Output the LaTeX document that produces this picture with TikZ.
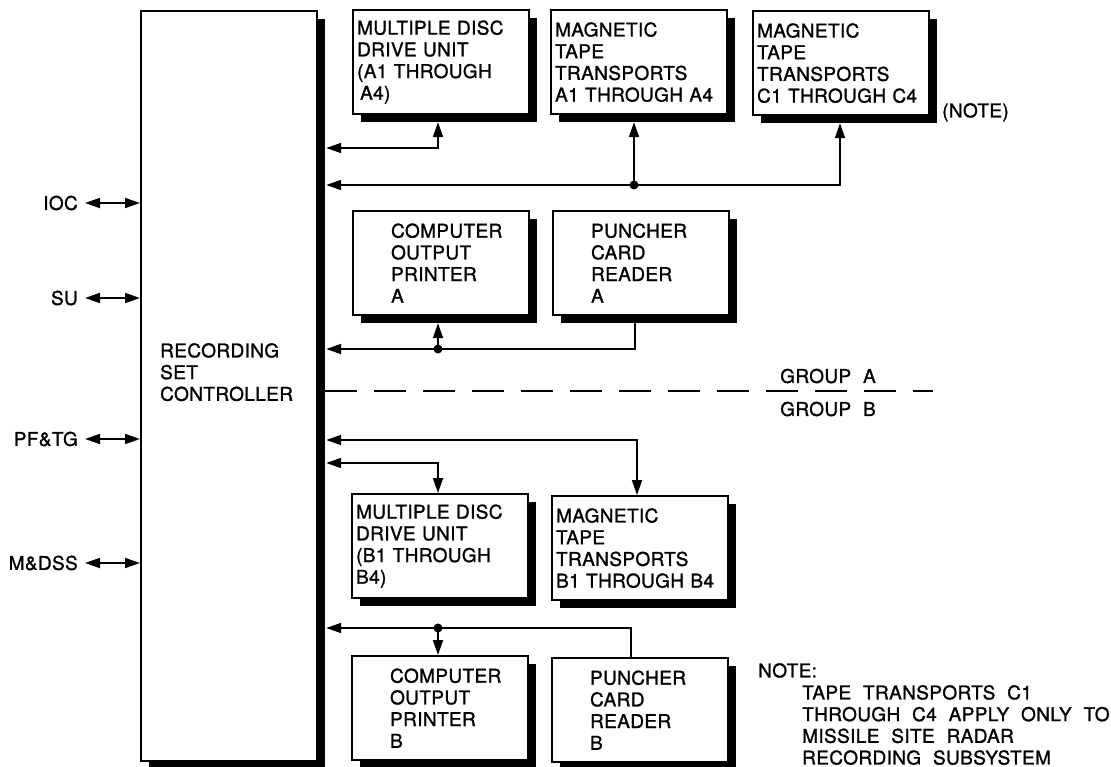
\documentclass[tikz,border=0pt]{standalone}
\usepackage{fontspec}
\setmainfont{TeX Gyre Heros}[LetterSpace=2,WordSpace=2.1,FakeBold=1.2]
\usetikzlibrary{arrows.meta,shadows,calc}
\hfuzz=40pt

\tikzset{
  unit/.style={draw,line width=2.2pt,fill=white,anchor=north west,
    minimum width=176pt,minimum height=104pt,align=left,
    drop shadow={shadow xshift=8pt,shadow yshift=-8pt,fill=black,opacity=1}},
  wideunit/.style={unit,inner xsep=4pt,text width=168pt},
  narrowunit/.style={unit,inner xsep=38pt,text width=100pt},
  link/.style={line width=1.8pt},
  txt/.style={inner sep=0pt,align=left},
  divider/.style={line width=2pt,dash pattern=on 32pt off 17pt},
}

\begin{document}
\begin{tikzpicture}[x=1pt,y=-1pt,>={Triangle[length=15pt,width=10pt]},
  font=\fontsize{19pt}{21.7pt}\selectfont]
\useasboundingbox (0,0) rectangle (1111,767);

\node[unit,minimum width=176pt,minimum height=750pt] (rsc) at (140,10) {};
\node[txt,anchor=north west] (rsclabel) at (160,343) {RECORDING\\SET\\CONTROLLER};
\coordinate (bus) at ([xshift=8pt]rsc.east);

% outside links
\foreach \name/\lbl/\yy in {ioc/IOC/203,su/SU/298,pftg/PF\&TG/439,mdss/M\&DSS/563}{
  \node[anchor=east,inner xsep=7pt,inner ysep=0pt] (\name) at (85,\yy) {\lbl};
  \draw[link,<->] (\name) -- (\name -| rsc.west);
}

% group A units
\node[wideunit] (mddA) at (352,9) {MULTIPLE DISC\\DRIVE UNIT\\(A1 THROUGH\\\hspace*{3pt}A4)};
\node[wideunit] (mttA) at (550,9) {MAGNETIC\\TAPE\\TRANSPORTS\\A1 THROUGH A4};
\node[wideunit] (mttC) at (752,10) {MAGNETIC\\TAPE\\TRANSPORTS\\C1 THROUGH C4};
\node[narrowunit] (copA) at (352,210) {COMPUTER\\OUTPUT\\PRINTER\\A};
\node[narrowunit] (pcrA) at (552,210) {PUNCHER\\CARD\\READER\\A};
\node[txt,anchor=north west] (noteref) at (942,103) {(NOTE)};

% group B units
\node[wideunit] (mddB) at (351,493) {MULTIPLE DISC\\DRIVE UNIT\\(B1 THROUGH\\B4)};
\node[wideunit] (mttB) at (551,495) {MAGNETIC\\TAPE\\TRANSPORTS\\B1 THROUGH B4};
\node[narrowunit] (copB) at (351,655) {COMPUTER\\OUTPUT\\PRINTER\\B};
\node[narrowunit] (pcrB) at (551,657) {PUNCHER\\CARD\\READER\\B};

% bends and branch points
\coordinate (kMddA) at (438,148);
\coordinate (kMttC) at (840,185);
\coordinate (dMttA) at (634,185);
\coordinate (kPcrA) at (635,349);
\coordinate (dCopA) at (438,349);
\coordinate (kMttB) at (637,440);
\coordinate (kMddB) at (438,463);
\coordinate (kPcrB) at (631,628);
\coordinate (dCopB) at (438,628);

\draw[link,<->] (bus |- kMddA) -- (kMddA) -- ($(kMddA |- mddA.south)+(0,7)$);
\draw[link,<->] (bus |- kMttC) -- (kMttC) -- ($(kMttC |- mttC.south)+(0,7)$);
\draw[link,->] (dMttA) -- ($(dMttA |- mttA.south)+(0,7)$);
\draw[link,->] ($(kPcrA |- pcrA.south)+(0,7)$) -- (kPcrA) -- (bus |- kPcrA);
\draw[link,->] (dCopA) -- ($(dCopA |- copA.south)+(0,7)$);
\fill (dMttA) circle (4.5pt);
\fill (dCopA) circle (4.5pt);

\draw[divider] (325,391) -- (933,391);
\node (grpA) at (828,376) {GROUP A};
\node (grpB) at (828,409) {GROUP B};

\draw[link,<->] (bus |- kMttB) -- (kMttB) -- (kMttB |- mttB.north);
\draw[link,<->] (bus |- kMddB) -- (kMddB) -- (kMddB |- mddB.north);
\draw[link,->] (kPcrB |- pcrB.north) -- (kPcrB) -- (bus |- kPcrB);
\draw[link,->] (dCopB) -- (dCopB |- copB.north);
\fill (dCopB) circle (4.5pt);

% note
\node[txt,anchor=north west] (notehead) at (758,663) {NOTE:};
\node[txt,anchor=north west] (notebody) at (802,685)
  {TAPE TRANSPORTS C1\\THROUGH C4 APPLY ONLY TO\\MISSILE SITE RADAR\\RECORDING SUBSYSTEM};
\end{tikzpicture}
\end{document}
